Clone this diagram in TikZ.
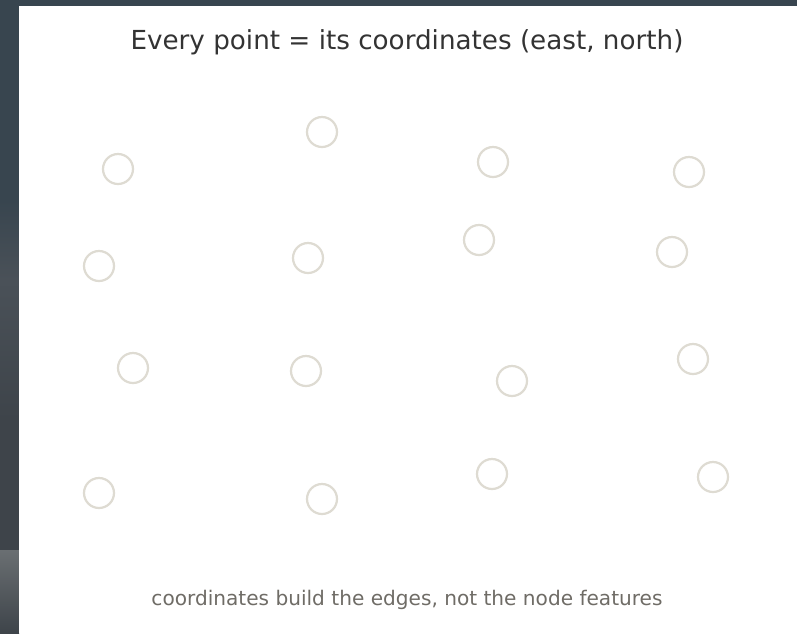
\documentclass[tikz,border=0pt]{standalone}
\usepackage{fontspec}
\setmainfont{DejaVu Sans}
\definecolor{bgtop}{HTML}{38454F}
\definecolor{bgmid}{HTML}{4A5158}
\definecolor{bglow}{HTML}{3E444A}
\definecolor{bgbot}{HTML}{6A6F72}
\definecolor{ring}{HTML}{DEDBD2}
\definecolor{titlec}{HTML}{333333}
\definecolor{notec}{HTML}{6F6C66}
\tikzset{
  pt/.style={circle, draw=ring, line width=2.2pt, minimum size=30pt, inner sep=0pt, fill=white},
  title/.style={font=\fontsize{26.2}{30}\selectfont, text=titlec},
  note/.style={font=\fontsize{20.1}{24}\selectfont, text=notec}
}
\begin{document}
\begin{tikzpicture}[x=1pt,y=-1pt]
\useasboundingbox (0,0) rectangle (797,633);
% background
\fill[bgtop] (0,0) rectangle (797,633);
\shade[top color=bgtop, bottom color=bgmid] (0,200) rectangle (19,280);
\shade[top color=bgmid, bottom color=bglow] (0,280) rectangle (19,420);
\fill[bglow] (0,420) rectangle (19,550);
\shade[top color=bgbot, bottom color=bglow] (0,550) rectangle (19,633);
% panel
\fill[white] (19,6) rectangle (797,633);
\node[title] (t) at (407,42) {Every point = its coordinates (east, north)};
\node[note] (n) at (407,600) {coordinates build the edges, not the node features};
\node[pt] (p1) at (118,169) {};
\node[pt] (p2) at (322,132) {};
\node[pt] (p3) at (493,162) {};
\node[pt] (p4) at (689,172) {};
\node[pt] (p5) at (99,266) {};
\node[pt] (p6) at (308,258) {};
\node[pt] (p7) at (479,240) {};
\node[pt] (p8) at (672,252) {};
\node[pt] (p9) at (133,368) {};
\node[pt] (p10) at (306,371) {};
\node[pt] (p11) at (512,381) {};
\node[pt] (p12) at (693,359) {};
\node[pt] (p13) at (99,493) {};
\node[pt] (p14) at (322,499) {};
\node[pt] (p15) at (492,474) {};
\node[pt] (p16) at (713,477) {};
\end{tikzpicture}
\end{document}
